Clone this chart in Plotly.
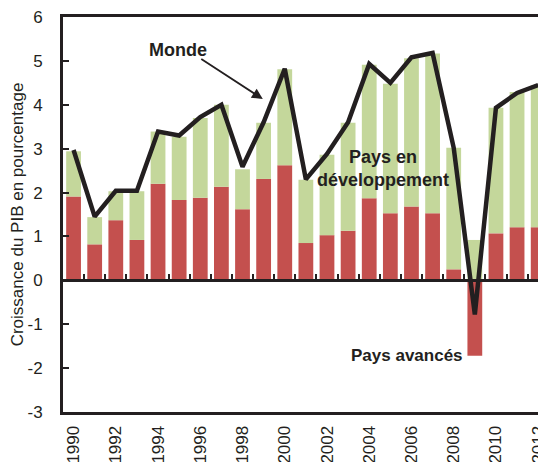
import plotly.graph_objects as go

# contributions to world GDP growth, percent
years = list(range(1990, 2013))
avances = [1.91, 0.82, 1.37, 0.92, 2.20, 1.83, 1.88, 2.13, 1.62, 2.31, 2.62, 0.85,
           1.03, 1.13, 1.87, 1.53, 1.68, 1.53, 0.25, -1.72, 1.07, 1.21, 1.21]
developpement = [1.03, 0.62, 0.66, 1.11, 1.19, 1.44, 1.82, 1.87, 0.91, 1.28, 2.19, 1.44,
                 1.83, 2.46, 3.04, 2.95, 3.38, 3.64, 2.77, 0.92, 2.86, 3.08, 3.23]
monde = [2.97, 1.45, 2.04, 2.04, 3.39, 3.30, 3.72, 4.00, 2.59, 3.60, 4.82, 2.30,
         2.88, 3.60, 4.93, 4.50, 5.08, 5.18, 3.02, -0.78, 3.93, 4.27, 4.45]
xtick_years = list(range(1990, 2013, 2))
ytick_vals = list(range(-3, 7))
ytick_text = ["-3", "-2", "-1", "0", "1", "2", "3", "4", "5", "6"]
boundaries = [y + 0.5 for y in years]

RED = "#C4504E"
GREEN = "#C4D79B"
INK = "#231F20"
FONT = "Liberation Sans, Arial, sans-serif"
XRANGE = [1989.5, 2012.37]

fig = go.Figure()
fig.add_trace(go.Bar(x=years, y=avances, marker_color=RED, marker_line_width=0,
                     name="Pays avancés"))
fig.add_trace(go.Bar(x=years, y=developpement, marker_color=GREEN, marker_line_width=0,
                     name="Pays en développement"))
fig.add_trace(go.Scatter(x=years, y=monde, mode="lines", xaxis="x2",
                         line=dict(color=INK, width=4.5), name="Monde"))

# page body adds 8px around the figure, so the figure is a bit smaller
fig.update_layout(
    width=538, height=454,
    margin=dict(l=55, r=0, t=9, b=50),
    paper_bgcolor="white", plot_bgcolor="white",
    barmode="relative", bargap=0.3,
    showlegend=False,
    font=dict(family=FONT, size=17, color=INK),
    xaxis=dict(range=XRANGE, tickvals=xtick_years, tickangle=-90, automargin=False,
               showline=True, linecolor=INK, linewidth=3, mirror=True,
               ticks="", showgrid=False, zeroline=False, ticklabelstandoff=4,
               ticklabeloverflow="allow", tickfont=dict(size=17)),
    xaxis2=dict(range=XRANGE, overlaying="x", anchor="free", position=1 / 3,
                automargin=False,
                showline=True, linecolor=INK, linewidth=3,
                tickvals=boundaries, ticks="inside", ticklen=5, tickwidth=2,
                tickcolor=INK, showticklabels=False, showgrid=False, zeroline=False),
    yaxis=dict(range=[-3, 6], tickvals=ytick_vals, ticktext=ytick_text,
               showline=True, linecolor=INK, linewidth=3,
               automargin=False,
               ticks="inside", ticklen=6, tickwidth=2, tickcolor=INK,
               showgrid=False, zeroline=False, ticklabelstandoff=14,
               ticklabeloverflow="allow", tickfont=dict(size=17),
               title=dict(text="Croissance du PIB en pourcentage",
                          font=dict(size=17), standoff=8)),
)

fig.add_annotation(x=1994.93, y=5.25, text="<b>Monde</b>", showarrow=False,
                   font=dict(size=18, color=INK))
fig.add_annotation(x=1998.96, y=4.13, ax=-63, ay=-41, text="", showarrow=True,
                   arrowhead=2, arrowsize=1.2, arrowwidth=1.8, arrowcolor=INK)
fig.add_annotation(x=2004.64, y=2.54, text="<b>Pays en<br>développement</b>",
                   showarrow=False, font=dict(size=18, color=INK))
fig.add_annotation(x=2008.53, y=-1.72, xanchor="right", text="<b>Pays avancés</b>",
                   showarrow=False, font=dict(size=17, color=INK))

fig.write_html("out.html")
